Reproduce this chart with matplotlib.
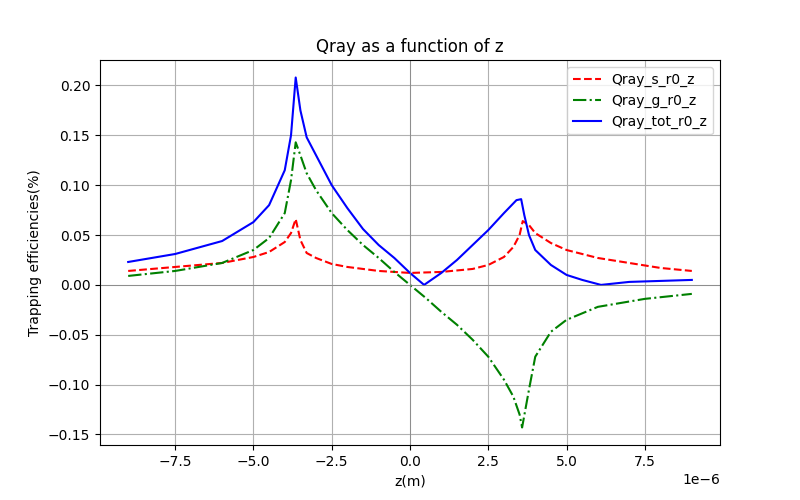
import matplotlib
matplotlib.use("Agg")
import matplotlib.pyplot as plt
import numpy as np

z_s = [-9,-7.5,-6,-5,-4.5,-4,-3.8,-3.65,-3.5,-3.3,-3,-2.5,-2,-1,0,1,2,2.5,3,3.3,3.5,3.6,3.8,4,4.5,5,6,7,8,9]
q_s = [0.014,0.018,0.022,0.028,0.033,0.043,0.052,0.066,0.045,0.032,0.027,0.021,0.018,0.014,0.012,0.013,0.016,0.020,0.028,0.038,0.050,0.064,0.060,0.052,0.042,0.035,0.027,0.022,0.017,0.014]

z_g = [-9,-7.5,-6,-5,-4.5,-4,-3.8,-3.65,-3.5,-3.3,-3,-2.5,-2,-1.5,-1,-0.5,0,0.5,1,1.5,2,2.5,3,3.3,3.5,3.58,3.8,4,4.5,5,6,7.5,9]
q_g = [0.009,0.014,0.022,0.035,0.047,0.072,0.105,0.143,0.13,0.112,0.095,0.072,0.055,0.04,0.027,0.013,0.0,-0.013,-0.027,-0.04,-0.055,-0.072,-0.095,-0.112,-0.13,-0.143,-0.105,-0.072,-0.047,-0.035,-0.022,-0.014,-0.009]

z_t = [-9,-7.5,-6,-5,-4.5,-4,-3.8,-3.65,-3.5,-3.3,-3,-2.5,-2,-1.5,-1,-0.5,0,0.45,1,1.5,2,2.5,3,3.4,3.55,3.65,3.8,4,4.5,5,5.5,6.1,7,8,9]
q_t = [0.023,0.031,0.044,0.063,0.08,0.115,0.15,0.208,0.175,0.148,0.13,0.1,0.077,0.056,0.04,0.027,0.012,0.0,0.012,0.025,0.04,0.055,0.072,0.085,0.086,0.07,0.05,0.035,0.02,0.01,0.005,0.0,0.003,0.004,0.005]

fig, ax = plt.subplots(figsize=(8,5), dpi=100)
ax.plot(np.array(z_s)*1e-6, q_s, 'r--', label='Qray_s_r0_z')
ax.plot(np.array(z_g)*1e-6, q_g, 'g-.', label='Qray_g_r0_z')
ax.plot(np.array(z_t)*1e-6, q_t, 'b-', label='Qray_tot_r0_z')
ax.axhline(0, color='gray', lw=0.5)
ax.axvline(0, color='gray', lw=0.5)
ax.grid(True)
ax.set_title('Qray as a function of z')
ax.set_xlabel('z(m)')
ax.set_ylabel('Trapping efficiencies(%)')
ax.legend(loc='upper right')
fig.savefig('out.png')
